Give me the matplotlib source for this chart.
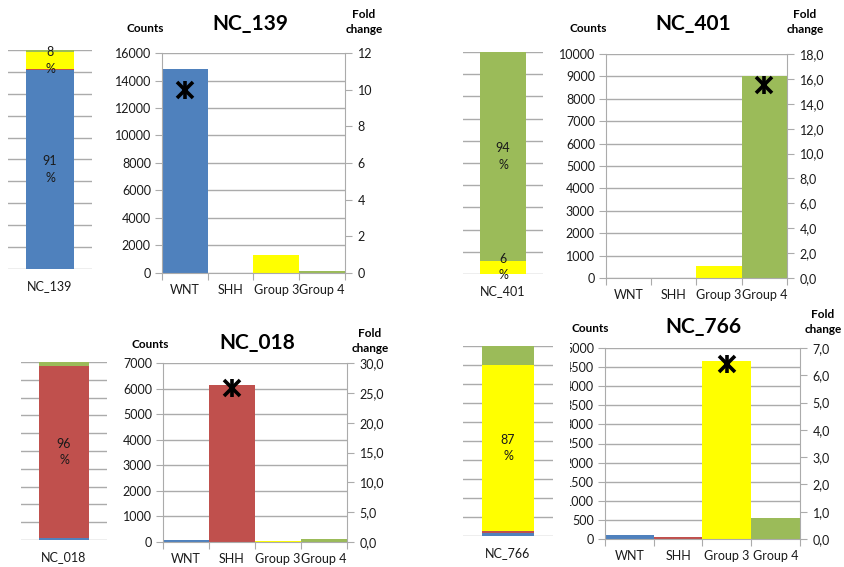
import numpy as np
import matplotlib
matplotlib.use("Agg")
import matplotlib.pyplot as plt
from matplotlib.ticker import FuncFormatter
from matplotlib.transforms import Bbox

plt.rcParams['font.family'] = ['Lato', 'DejaVu Sans']

# ---- data -------------------------------------------------------------
categories = ["WNT", "SHH", "Group 3", "Group 4"]
samples = ["NC_139", "NC_401", "NC_018", "NC_766"]

counts_nc139 = [14850, 30, 1330, 120]
counts_nc401 = [5, 15, 550, 9030]
counts_nc018 = [80, 6150, 25, 130]
counts_nc766 = [95, 60, 4670, 550]

# fold change of the top-ranked subgroup (category index, value)
fold_nc139 = (0, 10.0)
fold_nc401 = (3, 15.5)
fold_nc018 = (1, 25.8)
fold_nc766 = (2, 6.4)

# segments whose share is written inside the stacked bar
labeled_nc139 = ["WNT", "Group 3"]
labeled_nc401 = ["Group 3", "Group 4"]
labeled_nc018 = ["SHH"]
labeled_nc766 = ["Group 3"]

# axis ranges: (count max, count step, fold max, fold step, decimal comma)
range_nc139 = (16000, 2000, 12, 2, False)
range_nc401 = (10000, 1000, 18, 2, True)
range_nc018 = (7000, 1000, 30, 5, True)
range_nc766 = (5000, 500, 7, 1, True)

# ---- style --------------------------------------------------------------
colors = ["#4F81BD", "#C0504D", "#FFFF00", "#9BBB59"]
GRID = "#ABABAB"
TXT = "#1a1a1a"
W, H = 845, 567

fig = plt.figure(figsize=(W / 100, H / 100), dpi=100)


def rect(l, t, r, b):
    return [l / W, 1 - b / H, (r - l) / W, (b - t) / H]


def ftext(x, y, s, **kw):
    fig.text(x / W, 1 - y / H, s, ha="center", va="center", color="black", **kw)


def stacked(box, name, counts, labeled):
    ax = fig.add_axes(rect(*box))
    shares = 100 * np.array(counts, dtype=float) / np.sum(counts)
    bottom = 0.0
    for cat, val, col in zip(categories, shares, colors):
        ax.bar(0, val, bottom=bottom, width=0.58, color=col, zorder=2)
        if cat in labeled:
            ax.text(0, bottom + val / 2, f"{val:.0f}\n%", ha="center", va="center",
                    fontsize=9, color=TXT, linespacing=1.45, zorder=3)
        bottom += val
    ax.set_xlim(-0.5, 0.5)
    ax.set_ylim(0, 100)
    ax.set_yticks(np.arange(0, 101, 10))
    ax.yaxis.grid(True, color=GRID, lw=1)
    ax.set_axisbelow(True)
    ax.tick_params(axis="y", length=0, labelleft=False)
    ax.set_xticks([0])
    ax.set_xticklabels([name])
    ax.tick_params(axis="x", length=0, pad=8, labelsize=9, labelcolor=TXT)
    for s in ax.spines.values():
        s.set_visible(False)
    return ax


def main(box, counts, fold, rng):
    cmax, cstep, fmax, fstep, comma = rng
    ax = fig.add_axes(rect(*box))
    x = np.arange(len(categories))
    ax.bar(x, counts, width=1.0, color=colors, zorder=2)
    ax.set_xlim(-0.5, len(categories) - 0.5)
    ax.set_ylim(0, cmax)
    ax.set_yticks(np.arange(0, cmax + cstep / 2, cstep))
    ax.yaxis.grid(True, color=GRID, lw=1)
    ax.set_axisbelow(True)
    ax.set_xticks(np.arange(-0.5, len(categories), 1.0))
    ax.set_xticklabels([])
    ax.set_xticks(x, minor=True)
    ax.set_xticklabels(categories, minor=True)
    ax.tick_params(axis="x", which="major", length=5, color=GRID, direction="out")
    ax.tick_params(axis="x", which="minor", length=0, pad=8, labelsize=9, labelcolor=TXT)
    ax.tick_params(axis="y", length=5, color=GRID, pad=3, labelsize=9, labelcolor=TXT)
    for side in ("top", "right"):
        ax.spines[side].set_visible(False)
    for side in ("left", "bottom"):
        ax.spines[side].set_color(GRID)

    ax2 = ax.twinx()
    ax2.set_ylim(0, fmax)
    ax2.set_yticks(np.arange(0, fmax + fstep / 2, fstep))
    if comma:
        ax2.yaxis.set_major_formatter(FuncFormatter(lambda v, p: f"{v:.1f}".replace(".", ",")))
    else:
        ax2.yaxis.set_major_formatter(FuncFormatter(lambda v, p: f"{v:.0f}"))
    ax2.tick_params(axis="y", length=5, color=GRID, pad=4, labelsize=9, labelcolor=TXT)
    for side in ("top", "left", "bottom"):
        ax2.spines[side].set_visible(False)
    ax2.spines["right"].set_color(GRID)
    ci, fv = fold
    ax2.plot([ci], [fv], marker="x", ms=11, mew=2.6, color="black", zorder=4)
    ax2.plot([ci], [fv], marker="|", ms=13, mew=2.6, color="black", zorder=4)
    return ax, ax2


panels = [
    ("NC_139", counts_nc139, fold_nc139, range_nc139, labeled_nc139,
     (8, 50, 92, 269), (162, 53, 345, 273), (145, 29), (250, 24), (364, 22)),
    ("NC_401", counts_nc401, fold_nc401, range_nc401, labeled_nc401,
     (463, 52, 543, 274), (606, 54, 787, 278), (588, 29), (693, 24), (805, 22)),
    ("NC_018", counts_nc018, fold_nc018, range_nc018, labeled_nc018,
     (21, 362, 107, 540), (163, 363, 347, 542), (150, 345), (257, 343), (370, 341)),
    ("NC_766", counts_nc766, fold_nc766, range_nc766, labeled_nc766,
     (463, 346, 553, 536), (605, 348, 800, 539), (590, 329), (703, 327), (823, 322)),
]

main_axes = []
for name, cnt, fold, rng, lab, sbox, mbox, cxy, txy, fxy in panels:
    stacked(sbox, name, cnt, lab)
    ax, ax2 = main(mbox, cnt, fold, rng)
    main_axes.append(ax)
    ftext(*cxy, "Counts", fontsize=8.5, fontweight="bold")
    ftext(*txy, name, fontsize=15, fontweight="bold")
    ftext(*fxy, "Fold\nchange", fontsize=8.5, fontweight="bold", linespacing=1.5)

# the last chart's count labels are cut off on their left side
clip = Bbox.from_extents(570, 0, W, H)
for tick in main_axes[3].yaxis.get_major_ticks():
    tick.label1.set_clip_box(clip)
    tick.label1.set_clip_on(True)

fig.savefig("out.png", dpi=100)
